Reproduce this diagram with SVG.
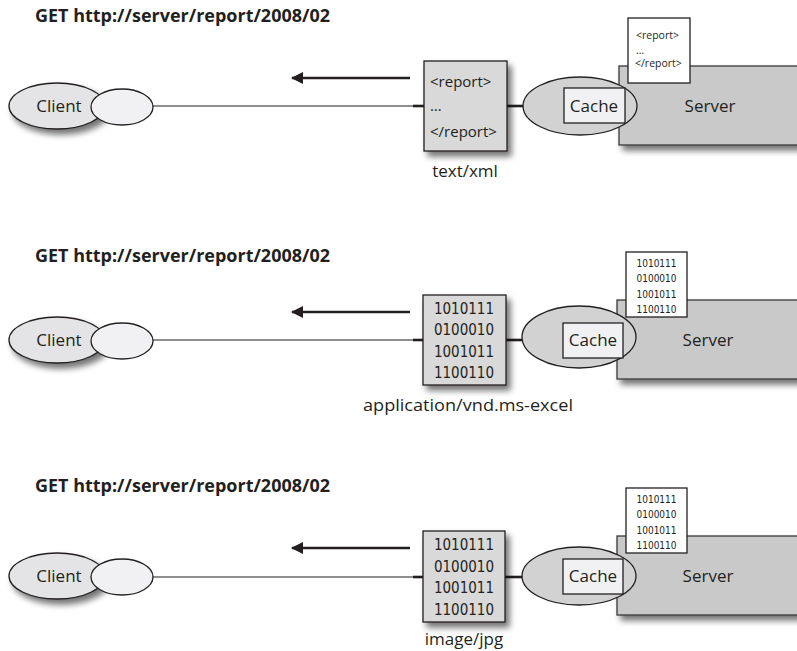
<svg xmlns="http://www.w3.org/2000/svg" width="797" height="651" viewBox="0 0 797 651">
  <style>
    .title { font-family: "Open Sans", "Noto Sans", sans-serif; font-weight: bold; font-size: 17px; fill: #231f20; }
    .lbl { font-family: "Open Sans", "Noto Sans", sans-serif; font-size: 17px; fill: #231f20; }
    .txt { font-family: "Open Sans", "Noto Sans", sans-serif; font-size: 15px; fill: #231f20; }
    .small { font-family: "Open Sans", "Noto Sans", sans-serif; font-size: 10.5px; fill: #231f20; }
    .bits { font-family: "DejaVu Sans Condensed", "DejaVu Sans", sans-serif; font-size: 15px; fill: #231f20; }
    .bits-sm { font-family: "DejaVu Sans Condensed", "DejaVu Sans", sans-serif; font-size: 10px; fill: #231f20; }
    .cap { font-family: "Open Sans", "Noto Sans", sans-serif; font-size: 17px; fill: #231f20; }
    .client { fill: #e4e4e6; stroke: #231f20; stroke-width: 1.3; }
    .port { fill: #f1f1f3; stroke: #231f20; stroke-width: 1.3; }
    .payload { fill: #d9d9d9; stroke: #231f20; stroke-width: 1.3; }
    .server { fill: #c9c9c9; stroke: #3a3a3a; stroke-width: 1.3; }
    .cache-ring { fill: #d2d2d2; stroke: #231f20; stroke-width: 1.3; }
    .cache-box { fill: #f1f1f3; stroke: #231f20; stroke-width: 1.3; }
    .doc { fill: #ffffff; stroke: #231f20; stroke-width: 1.3; }
    .wire { stroke: #231f20; stroke-width: 1.2; fill: none; }
    .stub { stroke: #231f20; stroke-width: 2.6; fill: none; }
    .flow { stroke: #231f20; stroke-width: 2.6; fill: none; marker-end: url(#head); }
  </style>
  <defs>
    <filter id="shade" x="-20%" y="-20%" width="150%" height="160%">
      <feGaussianBlur in="SourceAlpha" stdDeviation="3"/>
      <feOffset dx="4" dy="5" result="b"/>
      <feComponentTransfer><feFuncA type="linear" slope="0.55"/></feComponentTransfer>
      <feMerge><feMergeNode/><feMergeNode in="SourceGraphic"/></feMerge>
    </filter>
    <marker id="head" viewBox="0 0 12 12" refX="11" refY="6" markerWidth="12" markerHeight="12" markerUnits="userSpaceOnUse" orient="auto">
      <path d="M0,0 L12,6 L0,12 Z" fill="#231f20"/>
    </marker>
  </defs>

  <!-- request lines -->
  <text class="title" x="35" y="22" textLength="295" lengthAdjust="spacingAndGlyphs">GET http://server/report/2008/02</text>
  <text class="title" x="35" y="262" textLength="295" lengthAdjust="spacingAndGlyphs">GET http://server/report/2008/02</text>
  <text class="title" x="35" y="492" textLength="295" lengthAdjust="spacingAndGlyphs">GET http://server/report/2008/02</text>

  <!-- ===== Row 1: text/xml ===== -->
  <g id="row1">
    <g id="connectors-1">
      <line class="wire" x1="152" y1="106" x2="418" y2="106"/>
      <line class="stub" x1="413" y1="106" x2="424" y2="106"/>
      <line class="stub" x1="507" y1="106" x2="524" y2="106"/>
      <line class="flow" x1="410" y1="78" x2="292" y2="78"/>
    </g>
    <g id="client-1">
      <ellipse class="client" cx="57" cy="106" rx="48" ry="23" filter="url(#shade)"/>
      <text class="lbl" x="59" y="112" text-anchor="middle">Client</text>
      <ellipse class="port" cx="122" cy="107" rx="31" ry="18"/>
    </g>
    <g id="payload-1">
      <rect class="payload" x="424" y="61" width="83" height="90" filter="url(#shade)"/>
      <text class="txt" x="430" y="87">&lt;report&gt;</text>
      <text class="txt" x="430" y="111" font-size="11">…</text>
      <text class="txt" x="430" y="137">&lt;/report&gt;</text>
    </g>
    <text id="caption-1" class="cap" x="465" y="177" text-anchor="middle">text/xml</text>
    <g id="server-1">
      <rect class="server" x="619" y="66" width="200" height="79" filter="url(#shade)"/>
      <text class="lbl" x="710" y="112" text-anchor="middle">Server</text>
    </g>
    <g id="stored-1">
      <rect class="doc" x="628" y="18" width="62" height="65"/>
      <text class="small" x="636" y="39">&lt;report&gt;</text>
      <text class="small" x="636" y="54" font-size="7">…</text>
      <text class="small" x="635" y="67">&lt;/report&gt;</text>
    </g>
    <g id="cache-1">
      <ellipse class="cache-ring" cx="580" cy="106" rx="57" ry="29"/>
      <rect class="cache-box" x="564" y="88" width="61" height="35"/>
      <text class="lbl" x="594" y="112" text-anchor="middle">Cache</text>
    </g>
  </g>

  <!-- ===== Row 2: application/vnd.ms-excel ===== -->
  <g id="row2" transform="translate(0,234)">
    <g id="connectors-2">
      <line class="wire" x1="152" y1="106" x2="418" y2="106"/>
      <line class="stub" x1="413" y1="106" x2="424" y2="106"/>
      <line class="stub" x1="506" y1="106" x2="523" y2="106"/>
      <line class="flow" x1="410" y1="78" x2="292" y2="78"/>
    </g>
    <g id="client-2">
      <ellipse class="client" cx="57" cy="106" rx="48" ry="23" filter="url(#shade)"/>
      <text class="lbl" x="59" y="112" text-anchor="middle">Client</text>
      <ellipse class="port" cx="122" cy="107" rx="31" ry="18"/>
    </g>
    <g id="payload-2">
      <rect class="payload" x="423" y="61" width="83" height="90" filter="url(#shade)"/>
      <text class="bits" x="464" y="80" text-anchor="middle">1010111</text>
      <text class="bits" x="464" y="101" text-anchor="middle">0100010</text>
      <text class="bits" x="464" y="123" text-anchor="middle">1001011</text>
      <text class="bits" x="464" y="144" text-anchor="middle">1100110</text>
    </g>
    <text id="caption-2" class="cap" x="468" y="177" text-anchor="middle" textLength="210" lengthAdjust="spacingAndGlyphs">application/vnd.ms-excel</text>
    <g id="server-2">
      <rect class="server" x="617" y="66" width="200" height="79" filter="url(#shade)"/>
      <text class="lbl" x="708" y="112" text-anchor="middle">Server</text>
    </g>
    <g id="stored-2">
      <rect class="doc" x="626" y="18" width="61" height="65"/>
      <text class="bits-sm" x="656.5" y="33" text-anchor="middle">1010111</text>
      <text class="bits-sm" x="656.5" y="48" text-anchor="middle">0100010</text>
      <text class="bits-sm" x="656.5" y="64" text-anchor="middle">1001011</text>
      <text class="bits-sm" x="656.5" y="79" text-anchor="middle">1100110</text>
    </g>
    <g id="cache-2">
      <ellipse class="cache-ring" cx="579" cy="103" rx="57" ry="31"/>
      <rect class="cache-box" x="563" y="89" width="60" height="35"/>
      <text class="lbl" x="593" y="112" text-anchor="middle">Cache</text>
    </g>
  </g>

  <!-- ===== Row 3: image/jpg ===== -->
  <g id="row3" transform="translate(0,470)">
    <g id="connectors-3">
      <line class="wire" x1="152" y1="107" x2="418" y2="107"/>
      <line class="stub" x1="413" y1="107" x2="424" y2="107"/>
      <line class="stub" x1="505" y1="107" x2="523" y2="107"/>
      <line class="flow" x1="410" y1="78" x2="292" y2="78"/>
    </g>
    <g id="client-3">
      <ellipse class="client" cx="57" cy="106" rx="48" ry="23" filter="url(#shade)"/>
      <text class="lbl" x="59" y="112" text-anchor="middle">Client</text>
      <ellipse class="port" cx="122" cy="107" rx="31" ry="18"/>
    </g>
    <g id="payload-3">
      <rect class="payload" x="423" y="61" width="82" height="91" filter="url(#shade)"/>
      <text class="bits" x="464" y="80" text-anchor="middle">1010111</text>
      <text class="bits" x="464" y="102" text-anchor="middle">0100010</text>
      <text class="bits" x="464" y="123" text-anchor="middle">1001011</text>
      <text class="bits" x="464" y="145" text-anchor="middle">1100110</text>
    </g>
    <text id="caption-3" class="cap" x="464" y="175" text-anchor="middle">image/jpg</text>
    <g id="server-3">
      <rect class="server" x="617" y="66" width="200" height="79" filter="url(#shade)"/>
      <text class="lbl" x="708" y="112" text-anchor="middle">Server</text>
    </g>
    <g id="stored-3">
      <rect class="doc" x="626" y="18" width="61" height="65"/>
      <text class="bits-sm" x="656.5" y="33" text-anchor="middle">1010111</text>
      <text class="bits-sm" x="656.5" y="48" text-anchor="middle">0100010</text>
      <text class="bits-sm" x="656.5" y="64" text-anchor="middle">1001011</text>
      <text class="bits-sm" x="656.5" y="79" text-anchor="middle">1100110</text>
    </g>
    <g id="cache-3">
      <ellipse class="cache-ring" cx="579" cy="106" rx="57" ry="29"/>
      <rect class="cache-box" x="563" y="89" width="60" height="35"/>
      <text class="lbl" x="593" y="112" text-anchor="middle">Cache</text>
    </g>
  </g>
</svg>
